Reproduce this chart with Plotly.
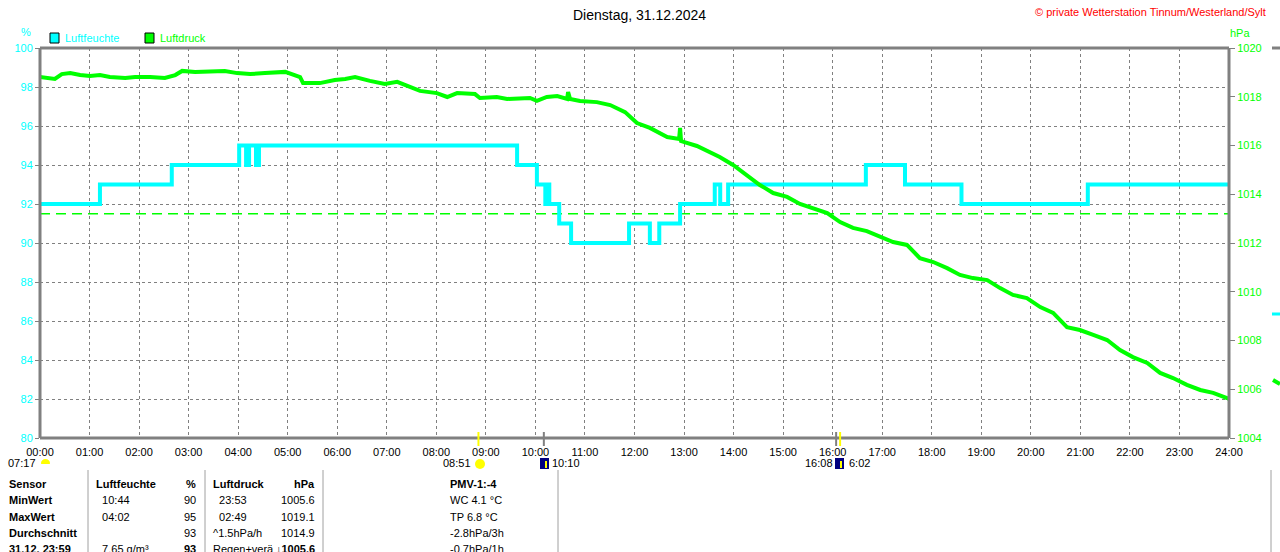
import plotly.graph_objects as go

# Luftfeuchte (step values, %), times as decimal hours
hum_hours = [0.0, 1.21, 2.66, 4.02, 4.16, 4.22, 4.36, 4.42, 9.63, 10.03, 10.2, 10.24,
             10.28, 10.48, 10.72, 11.89, 12.31, 12.5, 12.92, 12.97, 13.62, 13.73, 13.89,
             16.67, 17.46, 18.6, 21.15, 24.0]
hum_vals = [92, 93, 94, 95, 94, 95, 94, 95, 94, 93, 92, 93,
            92, 91, 90, 91, 90, 91, 92, 92, 93, 92, 93,
            94, 93, 92, 93, 93]

# Luftdruck (hPa)
pres_hours = [0.00, 0.30, 0.44, 0.61, 0.81, 1.01, 1.21, 1.41, 1.72, 1.92, 2.22, 2.52,
              2.73, 2.87, 3.13, 3.43, 3.73, 3.98, 4.24, 4.54, 4.95, 5.25, 5.31, 5.65,
              5.95, 6.16, 6.36, 6.66, 6.96, 7.21, 7.41, 7.67, 8.01, 8.22, 8.42, 8.78,
              8.88, 9.22, 9.43, 9.89, 10.03, 10.23, 10.44, 10.64, 10.66, 10.70, 10.90,
              11.24, 11.51, 11.81, 12.05, 12.31, 12.66, 12.90, 12.92, 12.94, 13.26,
              13.52, 13.72, 13.99, 14.27, 14.53, 14.80, 15.08, 15.34, 15.60, 15.89,
              16.15, 16.41, 16.69, 16.96, 17.22, 17.50, 17.76, 18.03, 18.31, 18.57,
              18.83, 19.12, 19.38, 19.64, 19.92, 20.19, 20.45, 20.73, 20.99, 21.26,
              21.54, 21.80, 22.06, 22.35, 22.61, 22.87, 23.15, 23.42, 23.68, 23.96, 24.0]
pres_vals = [1018.81, 1018.73, 1018.93, 1018.97, 1018.89, 1018.85, 1018.89, 1018.81,
             1018.77, 1018.81, 1018.81, 1018.77, 1018.89, 1019.06, 1019.02, 1019.02,
             1019.06, 1018.97, 1018.93, 1018.97, 1019.02, 1018.81, 1018.56, 1018.56,
             1018.69, 1018.73, 1018.81, 1018.65, 1018.52, 1018.61, 1018.44, 1018.24,
             1018.15, 1017.99, 1018.15, 1018.11, 1017.95, 1017.99, 1017.91, 1017.95,
             1017.83, 1017.99, 1018.03, 1017.91, 1018.19, 1017.91, 1017.83, 1017.78,
             1017.66, 1017.37, 1016.92, 1016.72, 1016.35, 1016.27, 1016.72, 1016.18,
             1015.98, 1015.73, 1015.53, 1015.20, 1014.79, 1014.38, 1014.05, 1013.89,
             1013.60, 1013.44, 1013.23, 1012.86, 1012.62, 1012.49, 1012.25, 1012.04,
             1011.92, 1011.38, 1011.22, 1010.97, 1010.69, 1010.56, 1010.48, 1010.15,
             1009.87, 1009.74, 1009.37, 1009.13, 1008.55, 1008.43, 1008.23, 1008.02,
             1007.61, 1007.32, 1007.08, 1006.67, 1006.46, 1006.18, 1005.97, 1005.85,
             1005.64, 1005.60]

hum_ref_line = 91.5
x_ticks = list(range(25))
x_labels = ["%02d:00" % h for h in x_ticks]
sun_marks = [8.85, 16.15]
moon_marks = [10.17, 16.07]

table_rows = ["<b>Sensor</b>", "<b>MinWert</b>", "<b>MaxWert</b>", "<b>Durchschnitt</b>", "<b>31.12. 23:59</b>"]
hum_col_a = ["<b>Luftfeuchte</b>", "  10:44", "  04:02", "", "  7.65 g/m³"]
hum_col_b = ["<b>%</b>", "90", "95", "93", "<b>93</b>"]
pres_col_a = ["<b>Luftdruck</b>", "  23:53", "  02:49", "^1.5hPa/h", "Regen+verä"]
pres_col_b = ["<b>hPa</b>", "1005.6", "1019.1", "1014.9", "<b>↓1005.6</b>"]
extra_col = ["<b>PMV-1:-4</b>", "WC 4.1 °C", "TP 6.8 °C", "-2.8hPa/3h", "-0.7hPa/1h"]

FONT = "Liberation Sans"
CYAN = "#00FFFF"
GREEN = "#00FF00"
GREY = "#808080"

# plot area in pixels
L, R, T, B = 40, 1229, 48, 438


def px(x):
    return (x - L) / (R - L)


def py(y):
    return (B - y) / (B - T)


fig = go.Figure()
fig.add_trace(go.Scatter(x=hum_hours, y=hum_vals, mode="lines", line_shape="hv",
                         line=dict(color=CYAN, width=4), name="Luftfeuchte"))
fig.add_trace(go.Scatter(x=pres_hours, y=pres_vals, mode="lines", yaxis="y2",
                         line=dict(color=GREEN, width=4), name="Luftdruck"))

shapes = []
ann = []

# reference dashed line
shapes.append(dict(type="line", xref="x", yref="y", x0=0, x1=24, y0=hum_ref_line, y1=hum_ref_line,
                   line=dict(color=GREEN, width=1.5, dash="10px,6px"), layer="below"))
# frame
for x0, x1, y0, y1 in ((0, 1, 1, 1), (0, 1, 0, 0), (0, 0, 0, 1), (1, 1, 0, 1)):
    shapes.append(dict(type="line", xref="paper", yref="paper", x0=x0, x1=x1, y0=y0, y1=y1,
                       line=dict(color=GREY, width=3)))

# sun / moon marks on the time axis
for h in sun_marks:
    shapes.append(dict(type="line", xref="x", yref="paper", x0=h, x1=h, y0=py(446), y1=py(432),
                       line=dict(color="#FFFF00", width=2)))
for h in moon_marks:
    shapes.append(dict(type="line", xref="x", yref="paper", x0=h, x1=h, y0=py(446), y1=py(432),
                       line=dict(color=GREY, width=2)))

# small icons below the axis
shapes.append(dict(type="circle", xref="paper", yref="paper", x0=px(41), x1=px(50), y0=py(467), y1=py(459),
                   fillcolor="#FFFF00", line=dict(width=0)))
shapes.append(dict(type="rect", xref="paper", yref="paper", x0=px(40), x1=px(51), y0=py(468), y1=py(464),
                   fillcolor="white", line=dict(width=0)))
shapes.append(dict(type="circle", xref="paper", yref="paper", x0=px(475), x1=px(485), y0=py(469), y1=py(459),
                   fillcolor="#FFFF00", line=dict(width=0)))
for x0 in (540, 835):
    shapes.append(dict(type="rect", xref="paper", yref="paper", x0=px(x0), x1=px(x0 + 9), y0=py(469), y1=py(458),
                       fillcolor="#000080", line=dict(width=0)))
    shapes.append(dict(type="line", xref="paper", yref="paper", x0=px(x0 + 6), x1=px(x0 + 6), y0=py(468), y1=py(461),
                       line=dict(color="#FFFF00", width=2)))

# legend boxes
shapes.append(dict(type="rect", xref="paper", yref="paper", x0=px(50), x1=px(59), y0=py(43), y1=py(33),
                   fillcolor=CYAN, line=dict(color="black", width=1)))
shapes.append(dict(type="rect", xref="paper", yref="paper", x0=px(145), x1=px(154), y0=py(43), y1=py(33),
                   fillcolor=GREEN, line=dict(color="black", width=1)))

# table separators
for x0 in (88, 205, 323, 558, 1271):
    shapes.append(dict(type="line", xref="paper", yref="paper", x0=px(x0), x1=px(x0), y0=py(552), y1=py(470),
                       line=dict(color="#A0A0A0", width=1)))

# leftovers of neighbouring chart at the right edge
shapes.append(dict(type="line", xref="paper", yref="paper", x0=px(1272), x1=px(1280), y0=py(48), y1=py(48),
                   line=dict(color=GREY, width=3)))
shapes.append(dict(type="line", xref="paper", yref="paper", x0=px(1272), x1=px(1280), y0=py(314), y1=py(314),
                   line=dict(color=CYAN, width=3)))
shapes.append(dict(type="line", xref="paper", yref="paper", x0=px(1273), x1=px(1280), y0=py(380), y1=py(384),
                   line=dict(color=GREEN, width=4)))


def text(x, y, s, color="black", size=11, anchor="left"):
    ann.append(dict(xref="paper", yref="paper", x=px(x), y=py(y), text=s, showarrow=False,
                    xanchor=anchor, yanchor="middle", font=dict(family=FONT, size=size, color=color)))


text(639, 15, "Dienstag, 31.12.2024", size=14, anchor="center")
text(1268, 12, "© private Wetterstation Tinnum/Westerland/Sylt", color="#FF0000", size=11, anchor="right")
text(26, 32, "%", color=CYAN, anchor="center")
text(1240, 33, "hPa", color=GREEN, anchor="center")
text(63, 38, "Luftfeuchte", color=CYAN)
text(158, 38, "Luftdruck", color=GREEN)

text(38, 463, "07:17", anchor="right")
text(473, 463, "08:51", anchor="right")
text(550, 463, "10:10")
text(835, 463, "16:08", anchor="right")
text(847, 463, "6:02")

row_y = [484, 500, 517, 533, 549]
for i, y in enumerate(row_y):
    text(7, y, table_rows[i])
    text(94, y, hum_col_a[i].replace("  ", "&nbsp;&nbsp;"))
    text(198, y, hum_col_b[i], anchor="right")
    text(211, y, pres_col_a[i].replace("  ", "&nbsp;&nbsp;"))
    text(317, y, pres_col_b[i], anchor="right")
    text(448, y, extra_col[i])

fig.update_layout(
    width=1280, height=552,
    margin=dict(l=L, r=1280 - R, t=T, b=552 - B),
    paper_bgcolor="white", plot_bgcolor="white",
    showlegend=False,
    font=dict(family=FONT, size=11, color="black"),
    xaxis=dict(range=[0, 24], tickvals=x_ticks, ticktext=x_labels, showgrid=True,
               gridcolor=GREY, griddash="3px,3px", gridwidth=1, zeroline=False,
               showline=False, ticks="", ticklabelstandoff=6,
               tickfont=dict(family=FONT, size=11, color="black")),
    yaxis=dict(range=[80, 100], dtick=2, showgrid=True, gridcolor=GREY, griddash="3px,3px",
               gridwidth=1, zeroline=False, showline=False, ticks="outside", ticklen=4,
               tickcolor=GREY, tickfont=dict(family=FONT, size=11, color=CYAN)),
    yaxis2=dict(range=[1004, 1020], tickvals=list(range(1004, 1021, 2)), overlaying="y", side="right",
                showgrid=False, zeroline=False, showline=False, ticks="outside", ticklen=5,
                tickcolor=GREY, tickfont=dict(family=FONT, size=11, color=GREEN)),
    shapes=shapes, annotations=ann,
)

fig.write_html("out.html", config={"displayModeBar": False},
               post_script="document.body.style.margin='0';document.body.style.overflow='hidden';")
